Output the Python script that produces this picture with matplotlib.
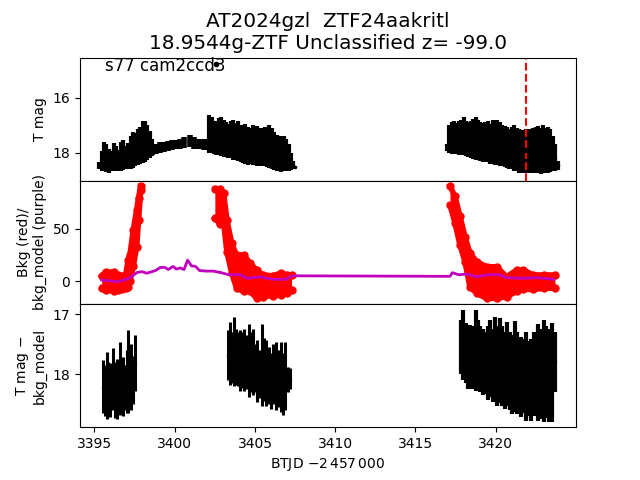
import matplotlib
matplotlib.use('Agg')
import numpy as np
import matplotlib.pyplot as plt

# light curve strands: time, bright edge, faint edge
lc_t1 = [3395.3,3395.45,3395.6,3395.75,3395.9,3396.05,3396.2,3396.35,3396.5,3396.65,3396.8,3396.95,3397.1,3397.25,3397.4,3397.55,3397.7,3397.85,3398.0,3398.15,3398.3,3398.45,3398.56]
lc_hi1 = [18.35,17.95,17.6,17.7,17.85,17.95,17.65,17.75,17.9,17.6,17.55,17.75,17.65,17.4,17.25,17.3,17.15,17.05,16.85,16.85,17.0,17.2,17.5]
lc_lo1 = [18.6,18.68,18.65,18.7,18.72,18.68,18.66,18.65,18.68,18.65,18.62,18.6,18.6,18.6,18.55,18.5,18.45,18.4,18.37,18.33,18.27,18.2,18.13]

lc_t2 = [3398.6,3398.85,3399.1,3399.35,3399.6,3399.85,3400.1,3400.35,3400.6,3400.95,3401.2,3401.5,3401.8,3402.05]
lc_hi2 = [17.75,17.68,17.63,17.6,17.57,17.55,17.54,17.5,17.42,17.35,17.42,17.5,17.52,17.5]
lc_lo2 = [18.1,18.05,18.0,17.97,17.93,17.9,17.88,17.86,17.84,17.8,17.85,17.88,17.9,17.9]

lc_t3 = [3402.15,3402.3,3402.45,3402.6,3402.75,3402.9,3403.05,3403.2,3403.35,3403.5,3403.65,3403.8,3403.95,3404.1,3404.25,3404.4,3404.55,3404.7,3404.85,3405.0,3405.15,3405.3,3405.45,3405.6,3405.75,3405.9,3406.05,3406.2,3406.35,3406.5,3406.65,3406.8,3406.95,3407.1,3407.25,3407.4,3407.49]
lc_hi3 = [16.62,16.7,16.95,16.85,16.75,16.72,16.8,16.9,16.95,16.85,16.8,16.92,16.85,16.98,17.0,16.95,17.05,17.1,17.0,17.1,17.02,17.12,17.1,17.05,17.15,17.0,17.1,17.25,17.35,17.5,17.4,17.38,17.5,17.7,18.0,18.3,18.5]
lc_lo3 = [18.0,18.01,18.05,18.08,18.1,18.12,18.15,18.17,18.19,18.2,18.25,18.28,18.3,18.35,18.38,18.4,18.44,18.42,18.45,18.46,18.48,18.5,18.48,18.5,18.52,18.55,18.58,18.62,18.66,18.68,18.7,18.68,18.66,18.68,18.62,18.6,18.56]

lc_t4 = [3416.96,3417.1,3417.25,3417.4,3417.55,3417.7,3417.85,3418.0,3418.15,3418.3,3418.45,3418.6,3418.75,3418.9,3419.05,3419.2,3419.35,3419.5,3419.65,3419.8,3419.95,3420.1,3420.25,3420.4,3420.55,3420.7,3420.85,3421.0,3421.15,3421.3,3421.45,3421.6,3421.75,3421.9,3422.05,3422.2,3422.35,3422.5,3422.65,3422.8,3422.95,3423.1,3423.25,3423.4,3423.55,3423.7,3423.88]
lc_hi4 = [17.7,17.0,16.88,16.85,16.92,16.85,16.8,16.72,16.85,16.9,16.85,16.78,16.72,16.82,16.9,16.92,16.88,16.85,16.95,16.82,16.95,16.8,16.9,16.98,17.02,17.05,17.15,17.05,17.0,17.1,17.15,17.18,17.16,17.15,17.15,17.18,17.1,17.05,17.02,17.1,17.0,17.1,17.05,17.15,17.4,17.7,18.3]
lc_lo4 = [17.95,18.0,18.05,18.02,18.05,18.08,18.1,18.1,18.13,18.15,18.2,18.22,18.28,18.25,18.3,18.33,18.35,18.32,18.4,18.42,18.45,18.45,18.48,18.5,18.52,18.55,18.58,18.6,18.65,18.68,18.72,18.74,18.74,18.72,18.72,18.7,18.74,18.72,18.74,18.76,18.74,18.72,18.74,18.7,18.68,18.66,18.62]

lc_extra_t = [3402.6]
lc_extra_mag = [14.77]

# background, upper and lower edge of the red band, one set per orbit piece
bkg_t1 = [3395.45,3395.7,3395.95,3396.2,3396.45,3396.7,3396.95,3397.1,3397.21,3397.42,3397.63,3397.75,3397.88]
bkg_hi1 = [5,9,8,9,6,5,6,20,25,49,68,80,91]
bkg_lo1 = [-7,-9,-8,-10,-9,-8,-7,-6,0,14,33,58.7,87.5]

bkg_t2 = [3402.5,3402.8,3403.05,3403.25,3403.55,3403.85,3404.3,3404.7,3405.1,3405.5,3406.1,3406.6,3407.0,3407.28]
bkg_hi2 = [88,88,84,58.7,36,25,25,17,10.6,5.8,5,7.5,6,5.8]
bkg_lo2 = [60,55,55.6,28,7.5,-6.7,-10,-10,-16.6,-15,-14,-13.5,-11,-8.7]

bkg_t3 = [3417.15,3417.46,3417.77,3418.08,3418.39,3418.81,3419.43,3420.05,3420.68,3421.3,3421.71,3422.34,3423.0,3423.69]
bkg_hi3 = [91,81,62,42.6,27,18.6,13.7,13.7,4,10.6,10.6,5.8,5.8,5.8]
bkg_lo3 = [73,55.6,34.6,18.6,-5.5,-11.8,-16.6,-16.6,-15,-10,-8,-8,-7,-6.7]

model_t = [3395.45,3396.4,3397.0,3397.3,3397.63,3397.95,3398.25,3398.8,3399.1,3399.4,3399.6,3399.9,3400.1,3400.35,3400.58,3400.8,3401.05,3401.3,3401.55,3402.0,3402.4,3402.9,3403.35,3404.1,3404.5,3405.3,3406.15,3406.9,3407.3,
           3417.15,3417.3,3417.7,3418.2,3418.8,3419.5,3420.25,3420.65,3421.7,3422.55,3423.6]
model_y = [1,-0.6,1.6,4,8,9,7.5,10,13,13,11,14,11.5,12.5,11,20,14.5,14,10,9.5,9.5,8,6,6,2.6,4,1.6,1.6,5,
           4.5,8,6,6.7,4,6,6,3.2,2.6,3.2,1.6]

# detrended strands
sub_t1 = [3395.55,3395.65,3395.76,3395.87,3395.98,3396.08,3396.18,3396.28,3396.38,3396.48,3396.6,3396.7,3396.8,3396.92,3397.0,3397.1,3397.2,3397.3,3397.42,3397.53]
sub_hi1 = [17.77,17.85,17.63,17.8,17.82,17.9,17.57,17.8,17.74,17.85,17.46,17.75,17.71,17.85,17.6,17.27,17.6,17.49,17.7,17.35]
sub_lo1 = [18.65,18.7,18.75,18.6,18.71,18.6,18.54,18.72,18.74,18.65,18.68,18.6,18.7,18.6,18.65,18.65,18.55,18.6,18.5,18.27]

sub_t2 = [3403.34,3403.45,3403.58,3403.7,3403.82,3403.95,3404.08,3404.2,3404.32,3404.45,3404.6,3404.72,3404.85,3405.0,3405.12,3405.28,3405.42,3405.55,3405.7,3405.85,3406.0,3406.15,3406.3,3406.45,3406.6,3406.72,3406.9,3407.04,3407.18]
sub_hi2 = [17.27,17.13,17.3,17.04,17.25,17.3,17.27,17.3,17.24,17.35,17.17,17.3,17.24,17.5,17.43,17.6,17.16,17.4,17.43,17.55,17.65,17.5,17.46,17.6,17.46,17.65,17.46,17.88,17.9]
sub_lo2 = [18.1,18.18,18.15,18.2,18.17,18.2,18.27,18.22,18.27,18.25,18.38,18.3,18.35,18.3,18.46,18.4,18.52,18.45,18.52,18.5,18.57,18.5,18.6,18.55,18.62,18.68,18.6,18.3,18.25]

sub_t3 = [3417.83,3417.98,3418.12,3418.26,3418.4,3418.55,3418.74,3418.88,3419.02,3419.2,3419.35,3419.5,3419.65,3419.8,3419.95,3420.1,3420.25,3420.4,3420.55,3420.7,3420.88,3421.0,3421.2,3421.35,3421.55,3421.7,3421.9,3422.0,3422.2,3422.4,3422.65,3422.8,3423.0,3423.15,3423.3,3423.5,3423.69]
sub_hi3 = [17.1,16.93,17.15,17.21,17.18,17.2,16.93,17.1,17.2,17.24,17.3,17.2,17.1,17.25,17.05,17.2,17.06,17.2,17.3,17.13,17.3,17.35,17.11,17.3,17.38,17.42,17.29,17.45,17.41,17.3,17.16,17.25,17.1,17.2,17.25,17.14,17.3]
sub_lo3 = [18.0,18.1,18.15,18.24,18.2,18.25,18.27,18.25,18.3,18.35,18.33,18.43,18.38,18.46,18.4,18.52,18.48,18.52,18.57,18.52,18.6,18.66,18.62,18.66,18.71,18.65,18.77,18.7,18.78,18.7,18.77,18.74,18.79,18.72,18.79,18.79,18.3]

marker_t = 3421.88


def strands(ax, t, hi, lo, lw):
    t, hi, lo = np.array(t), np.array(hi), np.array(lo)
    ax.errorbar(t, (hi + lo) / 2, yerr=(lo - hi) / 2, fmt='k.', elinewidth=lw, ms=3)


def band(ax, t, hi, lo):
    ax.fill_between(t, lo, hi, color='r', lw=0)
    ax.plot(t, hi, 'o-', color='r', ms=5, lw=4)
    ax.plot(t, lo, 'o-', color='r', ms=5, lw=4)


fig, (ax1, ax2, ax3) = plt.subplots(3, 1, sharex=True)
fig.subplots_adjust(hspace=0)
ax1.set_title('AT2024gzl  ZTF24aakritl\n18.9544g-ZTF Unclassified z= -99.0', fontsize=14.4)

strands(ax1, lc_t1, lc_hi1, lc_lo1, 3)
strands(ax1, lc_t2, lc_hi2, lc_lo2, 4)
strands(ax1, lc_t3, lc_hi3, lc_lo3, 3)
strands(ax1, lc_t4, lc_hi4, lc_lo4, 3)
ax1.plot(lc_extra_t, lc_extra_mag, 'k.')
ax1.axvline(marker_t, color='r', ls='--', lw=1.5)
ax1.set_ylim(19.02, 14.55)
ax1.set_yticks([16, 18])
ax1.set_ylabel('T mag')
ax1.text(0.05, 0.89, 's77 cam2ccd3', transform=ax1.transAxes, fontsize=12)
ax1.tick_params(bottom=False)

band(ax2, bkg_t1, bkg_hi1, bkg_lo1)
band(ax2, bkg_t2, bkg_hi2, bkg_lo2)
band(ax2, bkg_t3, bkg_hi3, bkg_lo3)
ax2.plot(model_t, model_y, color='m', lw=2)
ax2.set_ylim(-22, 96)
ax2.set_yticks([0, 50])
ax2.set_ylabel('Bkg (red)/\nbkg_model (purple)')
ax2.tick_params(bottom=False)

strands(ax3, sub_t1, sub_hi1, sub_lo1, 2.2)
strands(ax3, sub_t2, sub_hi2, sub_lo2, 2.2)
strands(ax3, sub_t3, sub_hi3, sub_lo3, 3)
ax3.set_ylim(18.88, 16.83)
ax3.set_yticks([17, 18])
ax3.set_ylabel('T mag $-$\nbkg_model')
ax3.set_xlim(3394.1, 3425)
ax3.set_xticks([3395, 3400, 3405, 3410, 3415, 3420])
ax3.set_xlabel(r'BTJD $-2\,457\,000$')

fig.savefig('out.png', dpi=100)
